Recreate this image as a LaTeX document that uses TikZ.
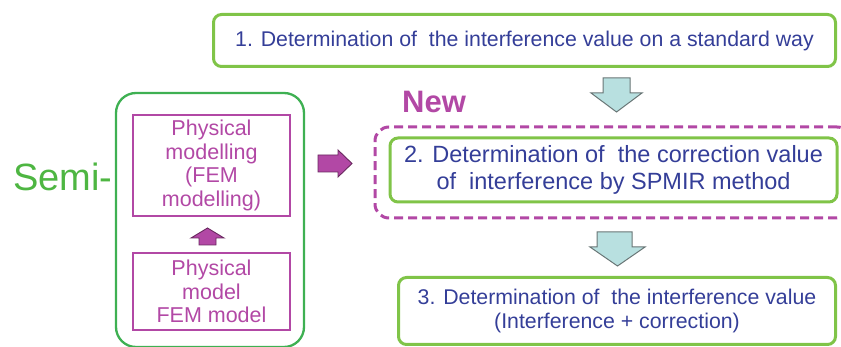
\documentclass[tikz,border=0pt]{standalone}
\usepackage{fontspec}
\setmainfont{Liberation Sans}
\definecolor{tblue}{RGB}{52,62,152}
\definecolor{mag}{RGB}{178,72,165}
\definecolor{magdark}{RGB}{105,40,95}
\definecolor{lgreen}{RGB}{128,196,72}
\definecolor{dgreen}{RGB}{62,176,82}
\definecolor{sgreen}{RGB}{78,182,66}
\definecolor{cyanfill}{RGB}{184,224,224}
\definecolor{cyanline}{RGB}{105,118,118}
\begin{document}
\begin{tikzpicture}[x=1pt,y=-1pt,
  gbox/.style={draw=lgreen,line width=3pt,rounded corners=8pt,text=tblue,align=center,inner sep=0pt},
  mbox/.style={draw=mag,line width=2.3pt,text=mag,align=center,inner sep=0pt},
  cyarrow/.style={fill=cyanfill,draw=cyanline,line width=1pt,line join=miter},
  magarrow/.style={fill=mag,draw=magdark,line width=0.9pt,line join=miter}]
\useasboundingbox (0,0) rectangle (841,347);
% box 1
\node[gbox,minimum width=622pt,minimum height=52pt,font=\fontsize{21.3}{25}\selectfont] (b1) at (524.5,40.5)
  {1. Determination of \ the interference value on a standard way};
% dashed frame
\node[draw=mag,line width=3pt,dash pattern=on 9pt off 5pt,rounded corners=14pt,minimum width=476pt,minimum height=91pt,inner sep=0pt] (frame) at (613,172.5) {};
\node[text=mag,font=\fontsize{31}{34}\selectfont\bfseries,anchor=base west,inner sep=0pt] (new) at (402,113) {New};
% box 2
\node[gbox,minimum width=447pt,minimum height=64pt,font=\fontsize{23.5}{27}\selectfont] (b2) at (613.5,170)
  {2. Determination of \ the correction value\\of \ interference by SPMIR method};
% box 3
\node[gbox,minimum width=437pt,minimum height=67pt,font=\fontsize{21.3}{24}\selectfont] (b3) at (617,311)
  {3. Determination of \ the interference value\\(Interference + correction)};
% Semi-
\node[text=sgreen,font=\fontsize{38}{40}\selectfont,anchor=base west,inner sep=0pt] (semi) at (13,191) {Semi-};
% outer green box
\node[draw=dgreen,line width=2.3pt,rounded corners=20pt,minimum width=188pt,minimum height=254pt,inner sep=0pt] (outer) at (210,220) {};
% inner boxes
\node[mbox,minimum width=157pt,minimum height=101pt,font=\fontsize{21.5}{23.5}\selectfont] (pm) at (211.5,165.5)
  {Physical\\modelling\\(FEM\\modelling)};
\node[mbox,minimum width=157pt,minimum height=77pt,font=\fontsize{21.5}{23.3}\selectfont] (pfem) at (211.5,291.5)
  {Physical\\model\\FEM model};
% up arrow magenta
\draw[magarrow] (199,245) -- (199,238) -- (191,238) -- (207.5,228) -- (224,238) -- (216,238) -- (216,245) -- cycle;
% right arrow magenta
\draw[magarrow] (318,155) -- (338,155) -- (338,150) -- (352,163.5) -- (338,177) -- (338,172) -- (318,172) -- cycle;
% cyan arrow 1
\draw[cyarrow] (603,78) -- (630,78) -- (630,93) -- (642,93) -- (616.5,112) -- (591,93) -- (603,93) -- cycle;
% cyan arrow 2
\draw[cyarrow] (597,232) -- (632,232) -- (632,247) -- (645,247) -- (617.5,266) -- (590,247) -- (597,247) -- cycle;
\end{tikzpicture}
\end{document}
